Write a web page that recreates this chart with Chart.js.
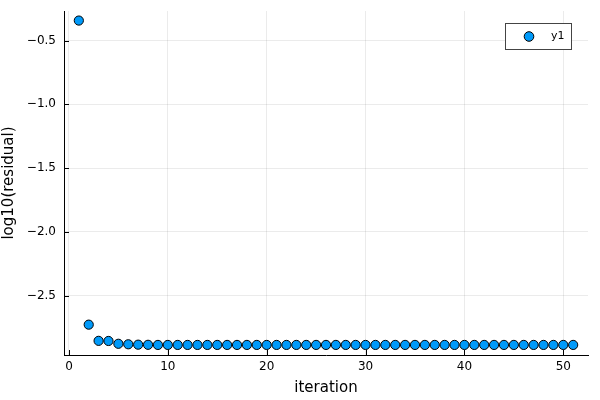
<!DOCTYPE html>
<html>
<head>
<meta charset="utf-8">
<script src="https://cdn.jsdelivr.net/npm/chart.js@4/dist/chart.umd.min.js"></script>
<style>
  html, body { margin: 0; padding: 0; background: #fff; }
  #wrap { width: 600px; height: 400px; position: relative; }
</style>
</head>
<body>
<div id="wrap"><canvas id="c"></canvas></div>
<script>
// residual per iteration (log10)
const iterations = [];
for (let i = 1; i <= 51; i++) iterations.push(i);
const residuals = [
  -0.343, -2.728, -2.855, -2.856, -2.878, -2.882, -2.885, -2.886, -2.887, -2.887,
  -2.887, -2.887, -2.887, -2.887, -2.887, -2.887, -2.887, -2.887, -2.887, -2.887,
  -2.887, -2.887, -2.887, -2.887, -2.887, -2.887, -2.887, -2.887, -2.887, -2.887,
  -2.887, -2.887, -2.887, -2.887, -2.887, -2.887, -2.887, -2.887, -2.887, -2.887,
  -2.887, -2.887, -2.887, -2.887, -2.887, -2.887, -2.887, -2.887, -2.887, -2.887,
  -2.887
];
const xTicks = [0, 10, 20, 30, 40, 50];
const yTicks = [-2.5, -2.0, -1.5, -1.0, -0.5];
const seriesName = 'y1';

const blue = '#009AFA';
const font = 'DejaVu Sans';
const fmtX = v => (v < 0 ? '\u2212' : '') + Math.abs(v);
const fmtY = v => (v < 0 ? '\u2212' : '') + Math.abs(v).toFixed(1);

// Plots.jl style: ticks drawn inside the axes + bordered legend
const extras = {
  id: 'extras',
  afterDraw(chart) {
    const ctx = chart.ctx, a = chart.chartArea;
    const sx = chart.scales.x, sy = chart.scales.y;
    ctx.save();
    ctx.strokeStyle = '#000';
    ctx.lineWidth = 1;
    ctx.beginPath();
    xTicks.forEach(t => {
      const px = Math.round(sx.getPixelForValue(t)) + 0.5;
      ctx.moveTo(px, a.bottom); ctx.lineTo(px, a.bottom - 5);
    });
    yTicks.forEach(t => {
      const py = Math.round(sy.getPixelForValue(t)) + 0.5;
      ctx.moveTo(a.left, py); ctx.lineTo(a.left + 5, py);
    });
    ctx.stroke();

    // legend
    const bx = 505.5, by = 23.5, bw = 66, bh = 26;
    ctx.fillStyle = '#fff';
    ctx.fillRect(bx, by, bw, bh);
    ctx.strokeStyle = '#444';
    ctx.strokeRect(bx, by, bw, bh);
    ctx.beginPath();
    ctx.arc(529, 36.5, 4.8, 0, Math.PI * 2);
    ctx.fillStyle = blue; ctx.fill();
    ctx.strokeStyle = '#000'; ctx.stroke();
    ctx.fillStyle = '#000';
    ctx.font = '11px "' + font + '"';
    ctx.textBaseline = 'middle';
    ctx.fillText(seriesName, 551, 36.5);
    ctx.restore();
  }
};

new Chart(document.getElementById('c'), {
  type: 'scatter',
  data: {
    datasets: [{
      label: seriesName,
      data: iterations.map((x, i) => ({ x: x, y: residuals[i] })),
      backgroundColor: blue,
      borderColor: '#000',
      borderWidth: 1,
      pointRadius: 4.6,
      pointHoverRadius: 4.6
    }]
  },
  options: {
    responsive: true,
    maintainAspectRatio: false,
    animation: false,
    layout: { padding: { top: 11, right: 12, left: 0, bottom: 0 } },
    plugins: { legend: { display: false }, tooltip: { enabled: false } },
    scales: {
      x: {
        type: 'linear',
        min: -0.5,
        max: 52.5,
        afterBuildTicks: s => { s.ticks = xTicks.map(v => ({ value: v })); },
        afterFit: s => { s.height = 45; },
        ticks: { color: '#000', font: { family: font, size: 12 }, padding: 5, callback: v => fmtX(v), maxRotation: 0 },
        grid: { color: 'rgba(0,0,0,0.08)', drawTicks: false },
        border: { display: true, color: '#000', width: 1 },
        title: { display: true, text: 'iteration', color: '#000', font: { family: font, size: 15 }, padding: { top: 0, bottom: 3 } }
      },
      y: {
        type: 'linear',
        min: -2.966,
        max: -0.268,
        afterBuildTicks: s => { s.ticks = yTicks.map(v => ({ value: v })); },
        afterFit: s => { s.width = 64; s.paddingTop = 0; s.paddingBottom = 0; },
        ticks: { color: '#000', font: { family: font, size: 12 }, padding: 8, callback: v => fmtY(v) },
        grid: { color: 'rgba(0,0,0,0.08)', drawTicks: false },
        border: { display: true, color: '#000', width: 1 },
        title: { display: true, text: 'log10(residual)', color: '#000', font: { family: font, size: 15 }, padding: { top: 0, bottom: 4 } }
      }
    }
  },
  plugins: [extras]
});
</script>
</body>
</html>
